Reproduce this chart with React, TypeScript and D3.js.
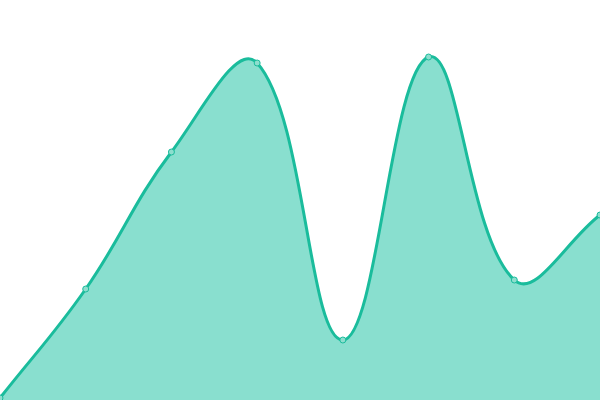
import React, { useEffect, useRef } from 'react';
import * as d3 from 'd3';

const svgWidth = 600;
const svgHeight = 400;

// 数据
const labels = ['A', 'B', 'C', 'D', 'E', 'F', 'G', 'H'];
const values = [0.5, 27.75, 62, 84.25, 15, 85.75, 30, 46.25];

// 张力样条曲线 (tension 0.4, 控制点按距离加权并限制在画布内)
class SplineCurve {
  _context: any;
  _line: number = NaN;
  _x: number[] = [];
  _y: number[] = [];
  constructor(context: any) {
    this._context = context;
  }
  areaStart() {
    this._line = 0;
  }
  areaEnd() {
    this._line = NaN;
  }
  lineStart() {
    this._x = [];
    this._y = [];
  }
  point(x: number, y: number) {
    this._x.push(+x);
    this._y.push(+y);
  }
  lineEnd() {
    const x = this._x;
    const y = this._y;
    const n = x.length;
    const t = 0.4;
    const clampX = (v: number) => Math.max(0, Math.min(svgWidth, v));
    const clampY = (v: number) => Math.max(0, Math.min(svgHeight, v));
    if (n) {
      this._line ? this._context.lineTo(x[0], y[0]) : this._context.moveTo(x[0], y[0]);
      const prevCp: [number, number][] = [];
      const nextCp: [number, number][] = [];
      for (let i = 0; i < n; i++) {
        const pi = i > 0 ? i - 1 : i;
        const ni = i < n - 1 ? i + 1 : i;
        const d01 = Math.hypot(x[i] - x[pi], y[i] - y[pi]);
        const d12 = Math.hypot(x[ni] - x[i], y[ni] - y[i]);
        let s01 = d01 / (d01 + d12);
        let s12 = d12 / (d01 + d12);
        if (isNaN(s01)) s01 = 0;
        if (isNaN(s12)) s12 = 0;
        const fa = t * s01;
        const fb = t * s12;
        prevCp.push([
          clampX(x[i] - fa * (x[ni] - x[pi])),
          clampY(y[i] - fa * (y[ni] - y[pi])),
        ]);
        nextCp.push([
          clampX(x[i] + fb * (x[ni] - x[pi])),
          clampY(y[i] + fb * (y[ni] - y[pi])),
        ]);
      }
      for (let i = 1; i < n; i++) {
        this._context.bezierCurveTo(
          nextCp[i - 1][0],
          nextCp[i - 1][1],
          prevCp[i][0],
          prevCp[i][1],
          x[i],
          y[i]
        );
      }
    }
    if (this._line || (this._line !== 0 && n === 1)) this._context.closePath();
    this._line = 1 - this._line;
  }
}

const curveSpline = (context: any) => new SplineCurve(context);

const App: React.FC = () => {
  const svgRef = useRef<SVGSVGElement | null>(null);

  useEffect(() => {
    const svg = d3.select(svgRef.current);
    svg.selectAll('*').remove();

    const xScale = d3
      .scalePoint<string>()
      .domain(labels)
      .range([0, svgWidth]);

    const yScale = d3.scaleLinear().domain([0, 100]).range([svgHeight, 0]);

    const data = labels.map((l, i) => ({ label: l, value: values[i] }));

    const area = d3
      .area<{ label: string; value: number }>()
      .x((d) => xScale(d.label)!)
      .y0(svgHeight)
      .y1((d) => yScale(d.value))
      .curve(curveSpline as any);

    const line = d3
      .line<{ label: string; value: number }>()
      .x((d) => xScale(d.label)!)
      .y((d) => yScale(d.value))
      .curve(curveSpline as any);

    svg
      .append('path')
      .datum(data)
      .attr('d', area)
      .attr('fill', '#89dfcf');

    svg
      .append('path')
      .datum(data)
      .attr('d', line)
      .attr('fill', 'none')
      .attr('stroke', '#1abc9c')
      .attr('stroke-width', 3);

    // 数据点
    svg
      .selectAll('circle')
      .data(data)
      .enter()
      .append('circle')
      .attr('cx', (d) => xScale(d.label)!)
      .attr('cy', (d) => yScale(d.value))
      .attr('r', 3)
      .attr('fill', '#8ddece')
      .attr('stroke', '#1abc9c')
      .attr('stroke-width', 1);
  }, []);

  return (
    <svg
      width={svgWidth}
      height={svgHeight}
      ref={svgRef}
      style={{ position: 'fixed', top: 0, left: 0 }}
    ></svg>
  );
};

export default App;
